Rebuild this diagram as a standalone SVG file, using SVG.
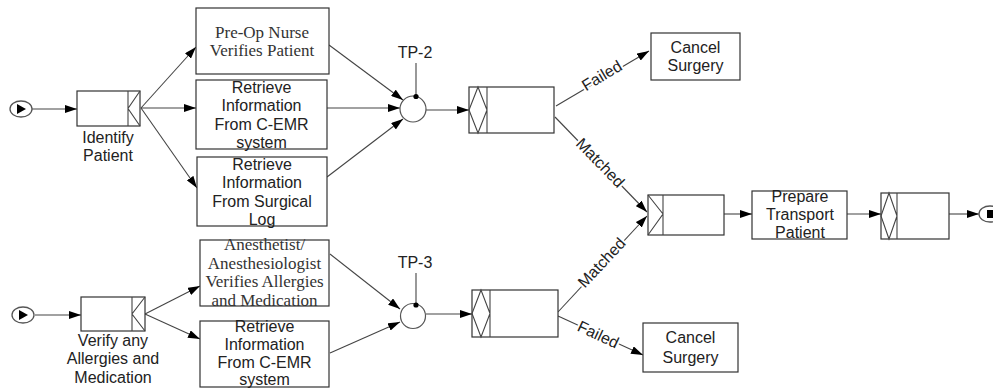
<svg xmlns="http://www.w3.org/2000/svg" width="993" height="389" viewBox="0 0 993 389">
<style>
.box{fill:#fff;stroke:#333;stroke-width:1.2}
.ln{fill:none;stroke:#444;stroke-width:1.1}
.t{font-family:"Liberation Sans",Arial,sans-serif;font-size:16px;fill:#222;text-anchor:middle}
.s{font-family:"Liberation Serif","Times New Roman",serif;font-size:17px;fill:#333;text-anchor:middle}
.lbl{font-family:"Liberation Sans",Arial,sans-serif;font-size:16px;fill:#222;text-anchor:middle;stroke:#fff;stroke-width:4;paint-order:stroke;stroke-linejoin:round}
.ev{fill:#fff;stroke:#555;stroke-width:1.3}
</style>
<defs>
<marker id="ah" viewBox="0 0 12 8" refX="12" refY="4" markerWidth="12" markerHeight="8" markerUnits="userSpaceOnUse" orient="auto"><path d="M0,0 L12,4 L0,8 z" fill="#000"/></marker>
</defs>
<rect width="993" height="389" fill="#fff"/>

<g id="connectors">
<line class="ln" x1="32" y1="109" x2="77" y2="109" marker-end="url(#ah)"/>
<line class="ln" x1="141" y1="108" x2="196" y2="47" marker-end="url(#ah)"/>
<line class="ln" x1="141" y1="108" x2="196" y2="108" marker-end="url(#ah)"/>
<line class="ln" x1="141" y1="108" x2="197" y2="188" marker-end="url(#ah)"/>
<line class="ln" x1="329" y1="45" x2="403" y2="100" marker-end="url(#ah)"/>
<line class="ln" x1="327" y1="108" x2="400" y2="108" marker-end="url(#ah)"/>
<line class="ln" x1="327" y1="177" x2="403" y2="119" marker-end="url(#ah)"/>
<line class="ln" x1="426" y1="110" x2="469" y2="110" marker-end="url(#ah)"/>
<line class="ln" x1="416" y1="63" x2="416" y2="96"/>
<line class="ln" x1="556" y1="106" x2="649" y2="51" marker-end="url(#ah)"/>
<line class="ln" x1="555" y1="117" x2="647" y2="212" marker-end="url(#ah)"/>

<line class="ln" x1="35" y1="315" x2="81" y2="315" marker-end="url(#ah)"/>
<line class="ln" x1="145" y1="314" x2="200" y2="286" marker-end="url(#ah)"/>
<line class="ln" x1="145" y1="314" x2="200" y2="339" marker-end="url(#ah)"/>
<line class="ln" x1="330" y1="254" x2="400" y2="309" marker-end="url(#ah)"/>
<line class="ln" x1="330" y1="353" x2="400" y2="322" marker-end="url(#ah)"/>
<line class="ln" x1="426" y1="314" x2="472" y2="314" marker-end="url(#ah)"/>
<line class="ln" x1="416" y1="273" x2="416" y2="305"/>
<line class="ln" x1="558" y1="312" x2="647" y2="216" marker-end="url(#ah)"/>
<line class="ln" x1="558" y1="316" x2="643" y2="355" marker-end="url(#ah)"/>

<line class="ln" x1="724" y1="214" x2="752" y2="214" marker-end="url(#ah)"/>
<line class="ln" x1="847" y1="214" x2="881" y2="214" marker-end="url(#ah)"/>
<line class="ln" x1="949" y1="214" x2="979" y2="214" marker-end="url(#ah)"/>

<text class="lbl" transform="translate(602,76) rotate(-31)" dy="5">Failed</text>
<text class="lbl" transform="translate(600,163) rotate(46)" dy="5">Matched</text>
<text class="lbl" transform="translate(602,263) rotate(-47)" dy="5">Matched</text>
<text class="lbl" transform="translate(598,335) rotate(25)" dy="5">Failed</text>
</g>

<g id="start1">
<ellipse class="ev" cx="21" cy="109" rx="11" ry="8"/>
<path d="M17,104 L26,109 L17,114 z" fill="#000"/>
</g>
<g id="start2">
<ellipse class="ev" cx="23" cy="315" rx="11" ry="8"/>
<path d="M19,310 L28,315 L19,320 z" fill="#000"/>
</g>

<g id="identify-patient">
<rect class="box" x="77" y="91" width="63" height="35"/>
<path class="ln" d="M128,91 V126 M140,91 L128,108.5 L140,126"/>
<text class="t" x="108" y="143">Identify</text>
<text class="t" x="108" y="161">Patient</text>
</g>

<g id="preop-nurse">
<rect class="box" x="196" y="8" width="133" height="66"/>
<text class="s" x="262" y="38">Pre-Op Nurse</text>
<text class="s" x="262" y="56">Verifies Patient</text>
</g>

<g id="retrieve-cemr-1">
<rect class="box" x="196" y="80" width="131" height="69"/>
<text class="t" x="261.5" y="93">Retrieve</text>
<text class="t" x="261.5" y="111">Information</text>
<text class="t" x="261.5" y="130">From C-EMR</text>
<text class="t" x="261.5" y="148">system</text>
</g>

<g id="retrieve-surgical">
<rect class="box" x="197" y="157" width="130" height="69"/>
<text class="t" x="262" y="170">Retrieve</text>
<text class="t" x="262" y="188">Information</text>
<text class="t" x="262" y="207">From Surgical</text>
<text class="t" x="262" y="225">Log</text>
</g>

<g id="tp2">
<circle cx="413" cy="109" r="13" fill="#fff" stroke="#555" stroke-width="1.2"/>
<circle cx="416" cy="96.5" r="2.6" fill="#000"/>
<text class="t" x="415" y="58">TP-2</text>
</g>

<g id="check1">
<rect class="box" x="469" y="87" width="85" height="46"/>
<path class="ln" d="M487,87 V133 M478,87 L469,110 L478,133 L487,110 Z"/>
</g>

<g id="cancel1">
<rect class="box" x="651" y="33" width="89" height="47"/>
<text class="t" x="695.5" y="53">Cancel</text>
<text class="t" x="695.5" y="71">Surgery</text>
</g>

<g id="verify-allergies">
<rect class="box" x="81" y="297" width="64" height="34"/>
<path class="ln" d="M132,297 V331 M145,297 L132,314 L145,331"/>
<text class="t" x="113" y="346">Verify any</text>
<text class="t" x="113" y="364">Allergies and</text>
<text class="t" x="113" y="383">Medication</text>
</g>

<g id="anesthetist">
<rect class="box" x="200" y="240" width="129" height="66"/>
<text class="s" x="264.5" y="250">Anesthetist/</text>
<text class="s" x="264.5" y="269">Anesthesiologist</text>
<text class="s" x="264.5" y="287">Verifies Allergies</text>
<text class="s" x="264.5" y="306">and Medication</text>
</g>

<g id="retrieve-cemr-2">
<rect class="box" x="200" y="321" width="129" height="66"/>
<text class="t" x="264.5" y="332">Retrieve</text>
<text class="t" x="264.5" y="350">Information</text>
<text class="t" x="264.5" y="368">From C-EMR</text>
<text class="t" x="264.5" y="385">system</text>
</g>

<g id="tp3">
<circle cx="413" cy="316" r="12.5" fill="#fff" stroke="#555" stroke-width="1.2"/>
<circle cx="416" cy="305" r="2.6" fill="#000"/>
<text class="t" x="415" y="268">TP-3</text>
</g>

<g id="check2">
<rect class="box" x="472" y="290" width="86" height="47"/>
<path class="ln" d="M490,290 V337 M481,290 L472,313.5 L481,337 L490,313.5 Z"/>
</g>

<g id="cancel2">
<rect class="box" x="643" y="323" width="95" height="49"/>
<text class="t" x="690.5" y="343">Cancel</text>
<text class="t" x="690.5" y="363">Surgery</text>
</g>

<g id="merge">
<rect class="box" x="648" y="195" width="76" height="40"/>
<path class="ln" d="M663,195 V235 M648,195 L663,214 L648,235"/>
</g>

<g id="prepare-transport">
<rect class="box" x="752" y="191" width="95" height="48"/>
<text class="t" x="800" y="202">Prepare</text>
<text class="t" x="800" y="220">Transport</text>
<text class="t" x="800" y="238">Patient</text>
</g>

<g id="check3">
<rect class="box" x="881" y="193" width="68" height="46"/>
<path class="ln" d="M897,193 V239 M889,193 L881,216 L889,239 L897,216 Z"/>
</g>

<g id="end">
<ellipse class="ev" cx="990" cy="214" rx="11" ry="8"/>
<rect x="987" y="210" width="7" height="8" fill="#000"/>
</g>
</svg>
